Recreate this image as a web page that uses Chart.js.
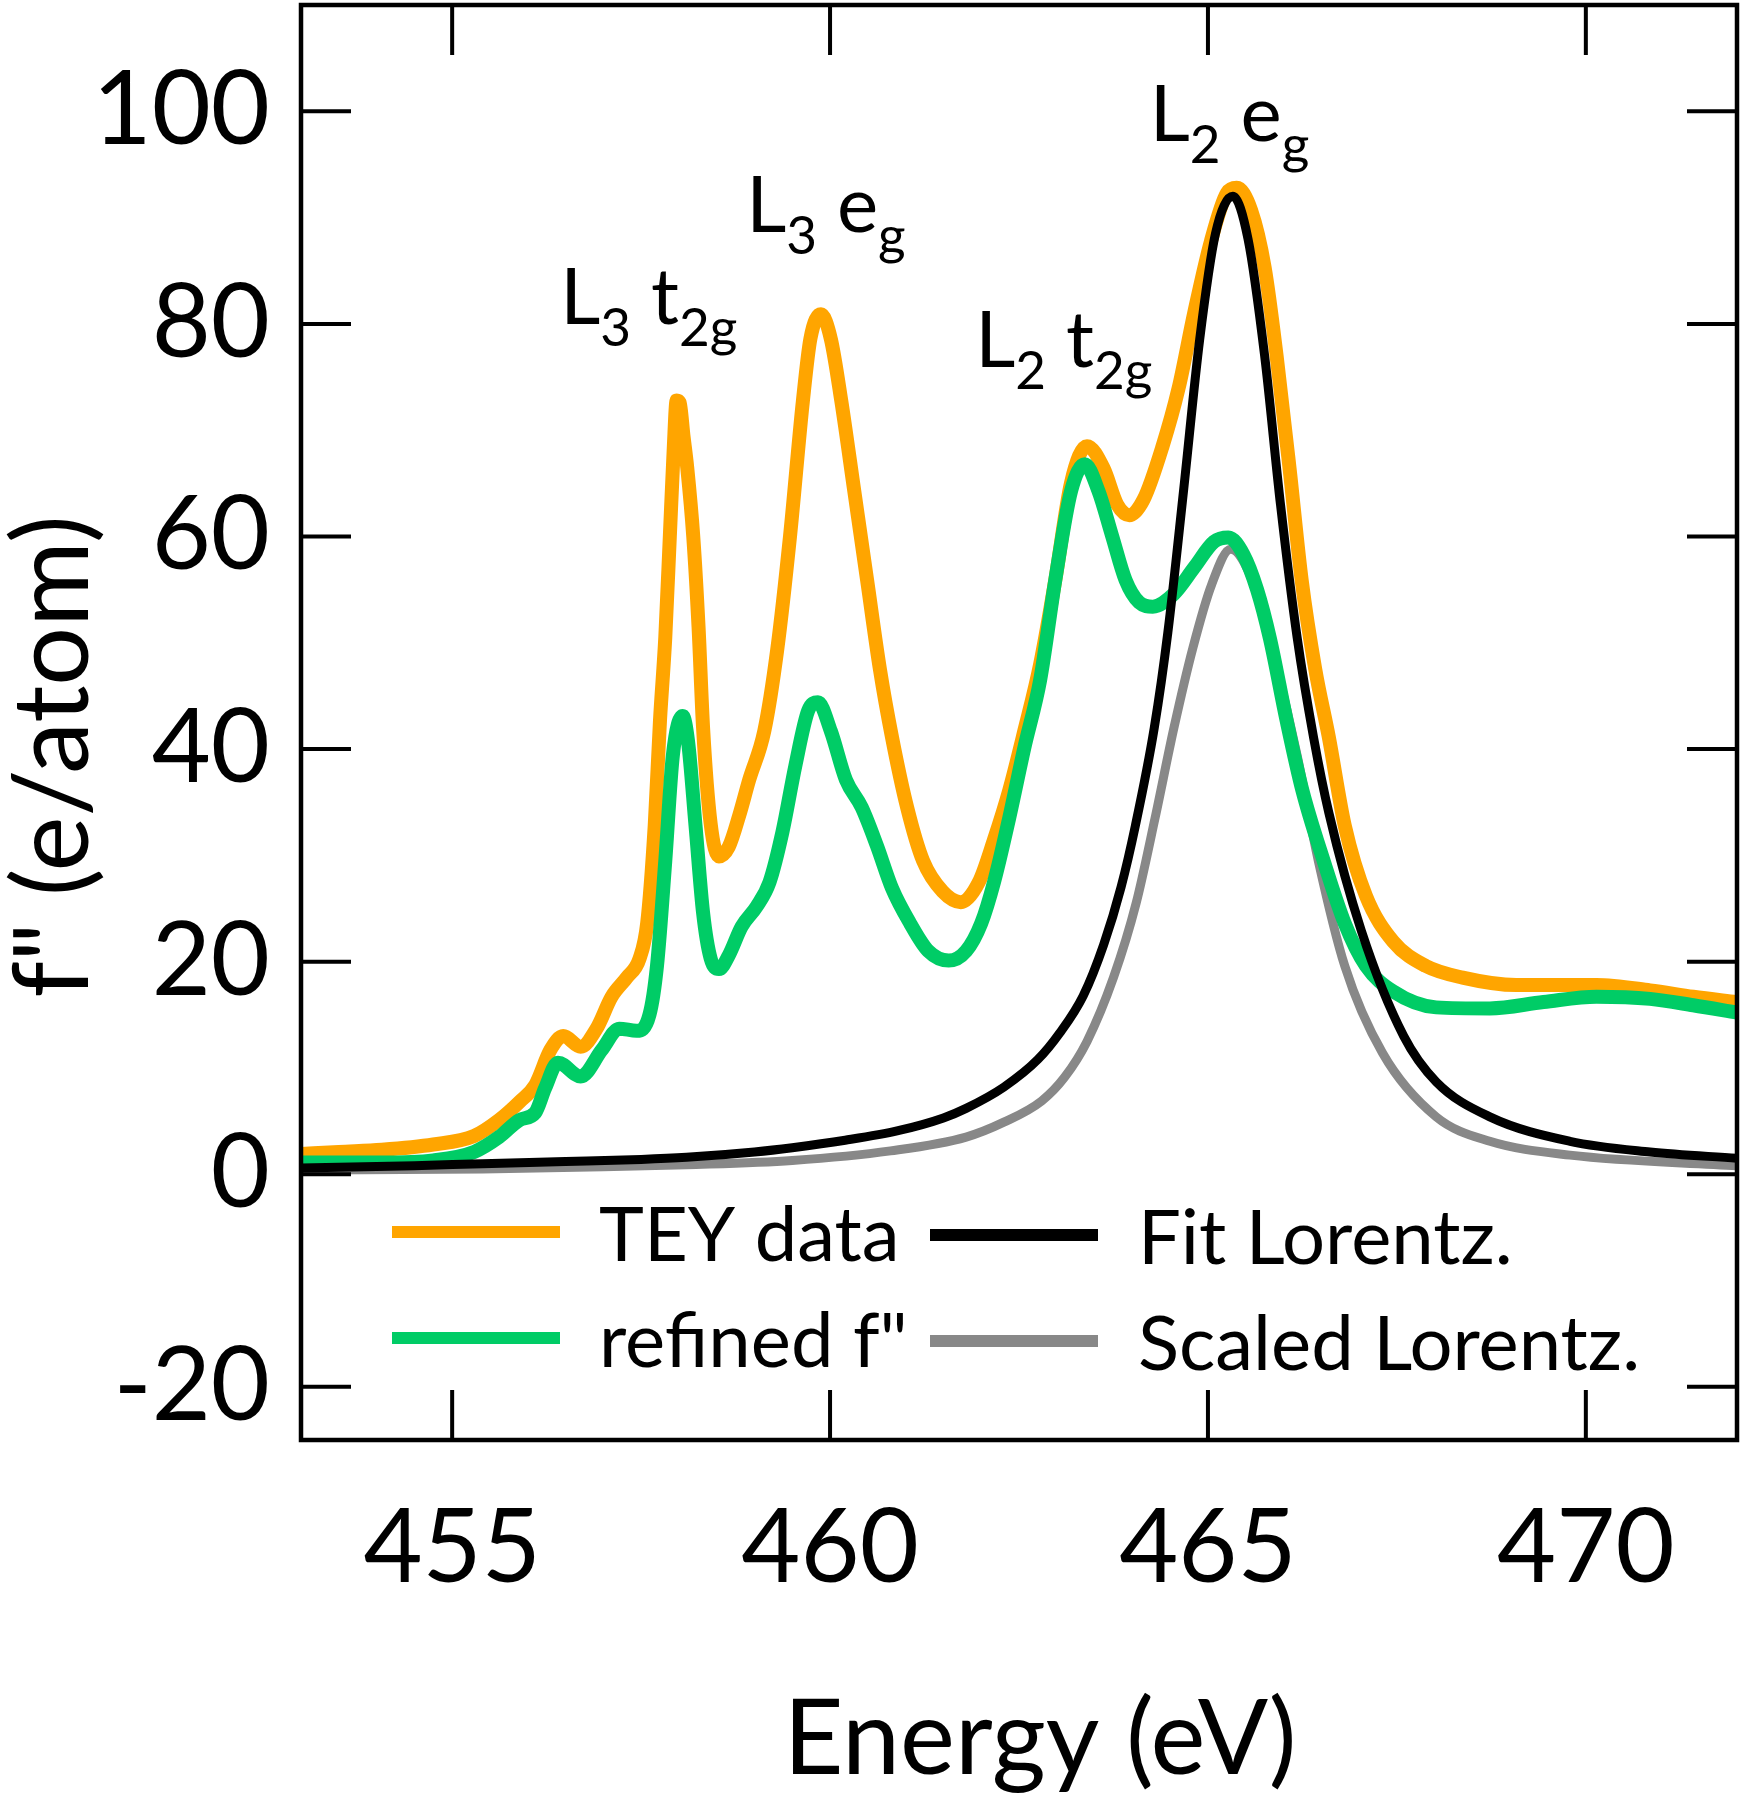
<!DOCTYPE html>
<html>
<head>
<meta charset="utf-8">
<script src="https://cdn.jsdelivr.net/npm/chart.js@4.4.1/dist/chart.umd.min.js"></script>
<style>
html,body{margin:0;padding:0;background:#fff;}
#wrap{width:1741px;height:1800px;}
</style>
</head>
<body>
<div id="wrap"><canvas id="c" width="1741" height="1800"></canvas></div>
<script>
// ---------- data ----------
const energyTEY = [453.00,453.50,454.07,454.75,455.29,455.62,455.89,456.10,456.30,456.47,456.70,456.91,457.11,457.31,457.48,457.58,457.68,457.75,457.82,457.88,457.93,457.97,458.01,458.06,458.11,458.19,458.26,458.32,458.42,458.53,458.66,458.80,458.93,459.13,459.30,459.47,459.64,459.74,459.88,460.01,460.15,460.32,460.49,460.66,460.82,461.02,461.23,461.49,461.73,461.97,462.17,462.37,462.57,462.78,462.98,463.19,463.40,463.62,463.80,463.96,464.15,464.40,464.61,464.82,465.04,465.25,465.38,465.57,465.75,465.91,466.08,466.24,466.42,466.60,466.81,467.09,467.45,467.88,468.37,469.08,470.14,470.85,471.42,472.00];
const valuesTEY = [1.9,2.1,2.3,2.8,3.6,5.1,6.8,8.4,11.7,13.0,12.0,13.7,16.7,18.5,20.3,23.6,32.8,42.7,50.5,60.0,68.0,72.8,72.6,69.5,66.5,60.0,51.5,42.0,33.0,29.9,30.8,33.8,37.1,41.7,49.3,60.0,72.7,78.6,80.9,78.6,72.7,64.3,55.9,47.5,41.1,34.5,29.5,26.6,25.6,27.5,31.5,36.1,41.7,48.0,55.9,65.1,68.5,66.4,63.0,62.0,63.5,68.5,73.9,81.1,87.8,92.3,92.8,90.7,85.3,76.9,66.4,55.9,47.5,41.1,32.8,26.2,21.9,19.6,18.5,17.8,17.8,17.3,16.7,16.2];

const energyRefined = [453.00,453.50,454.07,454.75,455.29,455.62,455.89,456.10,456.23,456.40,456.70,456.98,457.21,457.44,457.61,457.71,457.82,457.92,458.05,458.12,458.22,458.32,458.42,458.53,458.66,458.83,459.03,459.20,459.37,459.54,459.71,459.84,460.01,460.21,460.42,460.62,460.82,461.06,461.30,461.57,461.80,462.00,462.17,462.37,462.57,462.78,462.98,463.19,463.37,463.55,463.73,463.91,464.09,464.27,464.55,464.82,465.08,465.27,465.47,465.65,465.82,466.04,466.25,466.53,466.81,467.09,467.45,468.02,468.73,469.44,470.14,470.85,471.42,472.00];
const valuesRefined = [1.1,1.1,1.1,1.3,2.1,3.5,5.1,5.8,8.1,10.5,9.2,11.7,13.7,13.5,15.0,19.6,29.5,39.4,43.1,40.8,32.8,24.6,20.3,19.3,20.6,23.3,25.2,27.5,32.2,38.4,43.6,44.4,41.7,37.1,34.5,30.9,26.9,23.6,21.0,20.1,21.0,23.6,27.5,33.5,40.1,46.5,55.9,64.3,66.8,64.3,60.1,55.9,53.8,53.4,54.6,57.1,59.5,59.9,58.3,55.0,50.4,42.7,36.1,29.5,23.6,19.6,17.2,15.7,15.6,16.2,16.7,16.5,15.9,15.2];

const energyFit = [453.0,454.5,455.4,456.5,457.5,458.1,459.0,459.5,460.2,460.9,461.5,461.8,462.3,462.75,463.04,463.35,463.62,463.85,464.04,464.29,464.47,464.68,464.89,465.10,465.33,465.53,465.75,465.96,466.18,466.40,466.60,467.03,467.59,468.02,468.73,469.79,470.85,472.0];
const valuesFit = [0.6,0.8,1.0,1.2,1.4,1.6,2.1,2.5,3.2,4.1,5.3,6.2,8.2,10.8,13.3,16.8,21.6,27.0,32.8,42.0,51.0,64.5,78.5,88.5,92.0,88.0,77.0,63.0,50.5,41.0,34.0,22.9,13.0,8.7,5.4,3.1,2.1,1.5];

const energyScaled = [453.0,455.4,457.0,458.1,459.5,460.8,461.8,462.3,462.8,463.1,463.4,463.75,464.05,464.3,464.55,464.8,465.05,465.3,465.55,465.75,465.9,466.18,466.46,466.81,467.31,468.02,468.73,469.79,472.0];
const valuesScaled = [0.4,0.5,0.7,0.9,1.3,2.2,3.5,4.9,6.9,9.1,12.5,18.5,25.5,33.5,42.0,49.5,55.5,58.8,56.5,52.0,48.0,39.4,29.5,19.6,11.4,5.4,3.1,1.8,0.8];

const seriesLabels = ['TEY data', 'refined f"', 'Fit Lorentz.', 'Scaled Lorentz.'];
const seriesColors = ['#ffa500', '#00cc66', '#000000', '#888888'];

const xTickValues = [455, 460, 465, 470];
const xTickLabels = ['455', '460', '465', '470'];
const yTickValues = [-20, 0, 20, 40, 60, 80, 100];
const yTickLabels = ['-20', '0', '20', '40', '60', '80', '100'];
const xTitle = 'Energy (eV)';
const yTitle = 'f" (e/atom)';

// peak labels: alternating normal / subscript parts
const peakLabelParts = [
  ['L', '3', ' t', '2g'],
  ['L', '3', ' e', 'g'],
  ['L', '2', ' t', '2g'],
  ['L', '2', ' e', 'g']
];
const peakLabelEnergy = [456.43, 458.89, 461.92, 464.23];
const peakLabelValue = [80.0, 88.6, 75.9, 97.2];

// ---------- styling ----------
const FONT = 'Lato, "Open Sans", "DejaVu Sans", sans-serif';
const lineWidths = [14, 14, 9, 9];
const drawOrder = [2, 1, 0, 3];

const pts = (xs, ys) => xs.map((x, i) => ({x: x, y: ys[i]}));
const seriesData = [
  pts(energyTEY, valuesTEY),
  pts(energyRefined, valuesRefined),
  pts(energyFit, valuesFit),
  pts(energyScaled, valuesScaled)
];

const framePlugin = {
  id: 'frame',
  afterDatasetsDraw(chart) {
    const {ctx, chartArea: a, scales: {x, y}} = chart;
    const tl = 50;
    ctx.save();
    ctx.strokeStyle = '#000';
    ctx.lineWidth = 4;
    ctx.lineCap = 'butt';
    ctx.beginPath();
    x.ticks.forEach(t => {
      const px = x.getPixelForValue(t.value);
      ctx.moveTo(px, a.bottom); ctx.lineTo(px, a.bottom - tl);
      ctx.moveTo(px, a.top); ctx.lineTo(px, a.top + tl);
    });
    y.ticks.forEach(t => {
      const py = y.getPixelForValue(t.value);
      ctx.moveTo(a.left, py); ctx.lineTo(a.left + tl, py);
      ctx.moveTo(a.right, py); ctx.lineTo(a.right - tl, py);
    });
    ctx.stroke();
    ctx.lineWidth = 4.5;
    ctx.strokeRect(a.left, a.top, a.right - a.left, a.bottom - a.top);
    ctx.restore();
  }
};

const peakLabelPlugin = {
  id: 'peakLabels',
  afterDatasetsDraw(chart) {
    const {ctx, scales: {x, y}} = chart;
    ctx.save();
    ctx.fillStyle = '#000';
    ctx.textBaseline = 'alphabetic';
    ctx.textAlign = 'left';
    peakLabelParts.forEach((parts, i) => {
      let px = x.getPixelForValue(peakLabelEnergy[i]);
      const py = y.getPixelForValue(peakLabelValue[i]);
      parts.forEach((p, j) => {
        const sub = j % 2 === 1;
        ctx.font = (sub ? '53px ' : '78px ') + FONT;
        ctx.fillText(p, px, sub ? py + 22 : py);
        px += ctx.measureText(p).width;
      });
    });
    ctx.restore();
  }
};

const legendPlugin = {
  id: 'insideLegend',
  afterDraw(chart) {
    const {ctx, chartArea: a} = chart;
    const colSample = [91, 629];
    const colText = [298, 837];
    const rowY = [a.bottom - 208, a.bottom - 102];
    const sampleLen = 168;
    ctx.save();
    chart.data.datasets.forEach((ds, i) => {
      const col = Math.floor(i / 2), row = i % 2;
      const y0 = rowY[row] + (col === 1 ? 3 : 0);
      ctx.strokeStyle = ds.borderColor;
      ctx.lineWidth = 12;
      ctx.lineCap = 'butt';
      ctx.beginPath();
      ctx.moveTo(a.left + colSample[col], y0);
      ctx.lineTo(a.left + colSample[col] + sampleLen, y0);
      ctx.stroke();
      ctx.fillStyle = '#000';
      ctx.font = '76px ' + FONT;
      ctx.textBaseline = 'middle';
      ctx.textAlign = 'left';
      ctx.fillText(ds.label, a.left + colText[col], y0 + 4);
    });
    ctx.restore();
  }
};

const axisTitlePlugin = {
  id: 'axisTitles',
  afterDraw(chart) {
    const {ctx, chartArea: a} = chart;
    ctx.save();
    ctx.fillStyle = '#000';
    ctx.font = '104px ' + FONT;
    ctx.textAlign = 'center';
    ctx.textBaseline = 'middle';
    ctx.fillText(xTitle, (a.left + a.right) / 2 + 21, chart.height - 60);
    ctx.translate(54, (a.top + a.bottom) / 2 + 34);
    ctx.rotate(-Math.PI / 2);
    ctx.fillText(yTitle, 0, 0);
    ctx.restore();
  }
};

const ctx = document.getElementById('c').getContext('2d');
new Chart(ctx, {
  type: 'line',
  data: {
    datasets: seriesData.map((d, i) => ({
      label: seriesLabels[i],
      data: d,
      borderColor: seriesColors[i],
      backgroundColor: seriesColors[i],
      borderWidth: lineWidths[i],
      pointRadius: 0,
      fill: false,
      cubicInterpolationMode: 'monotone',
      borderJoinStyle: 'round',
      borderCapStyle: 'round',
      order: drawOrder[i],
      clip: 0
    }))
  },
  options: {
    responsive: false,
    animation: false,
    devicePixelRatio: 1,
    layout: {padding: {top: 5, right: 4, bottom: 0, left: 0}},
    plugins: {legend: {display: false}, tooltip: {enabled: false}},
    scales: {
      x: {
        type: 'linear',
        min: 453, max: 472,
        afterBuildTicks: s => { s.ticks = xTickValues.map(v => ({value: v})); },
        afterFit: s => { s.height = 360; s.paddingLeft = 0; s.paddingRight = 0; },
        grid: {display: false, drawTicks: false},
        border: {display: false},
        ticks: {
          callback: v => xTickLabels[xTickValues.indexOf(v)],
          font: {family: FONT, size: 102, lineHeight: 1},
          color: '#000',
          padding: 58,
          maxRotation: 0
        },
        title: {display: false, text: xTitle}
      },
      y: {
        type: 'linear',
        min: -25, max: 110,
        afterBuildTicks: s => { s.ticks = yTickValues.map(v => ({value: v})); },
        afterFit: s => { s.width = 301; s.paddingTop = 0; s.paddingBottom = 0; },
        grid: {display: false, drawTicks: false},
        border: {display: false},
        ticks: {
          callback: v => yTickLabels[yTickValues.indexOf(v)],
          font: {family: FONT, size: 102, lineHeight: 1},
          color: '#000',
          padding: 31
        },
        title: {display: false, text: yTitle}
      }
    }
  },
  plugins: [framePlugin, peakLabelPlugin, legendPlugin, axisTitlePlugin]
});
</script>
</body>
</html>
